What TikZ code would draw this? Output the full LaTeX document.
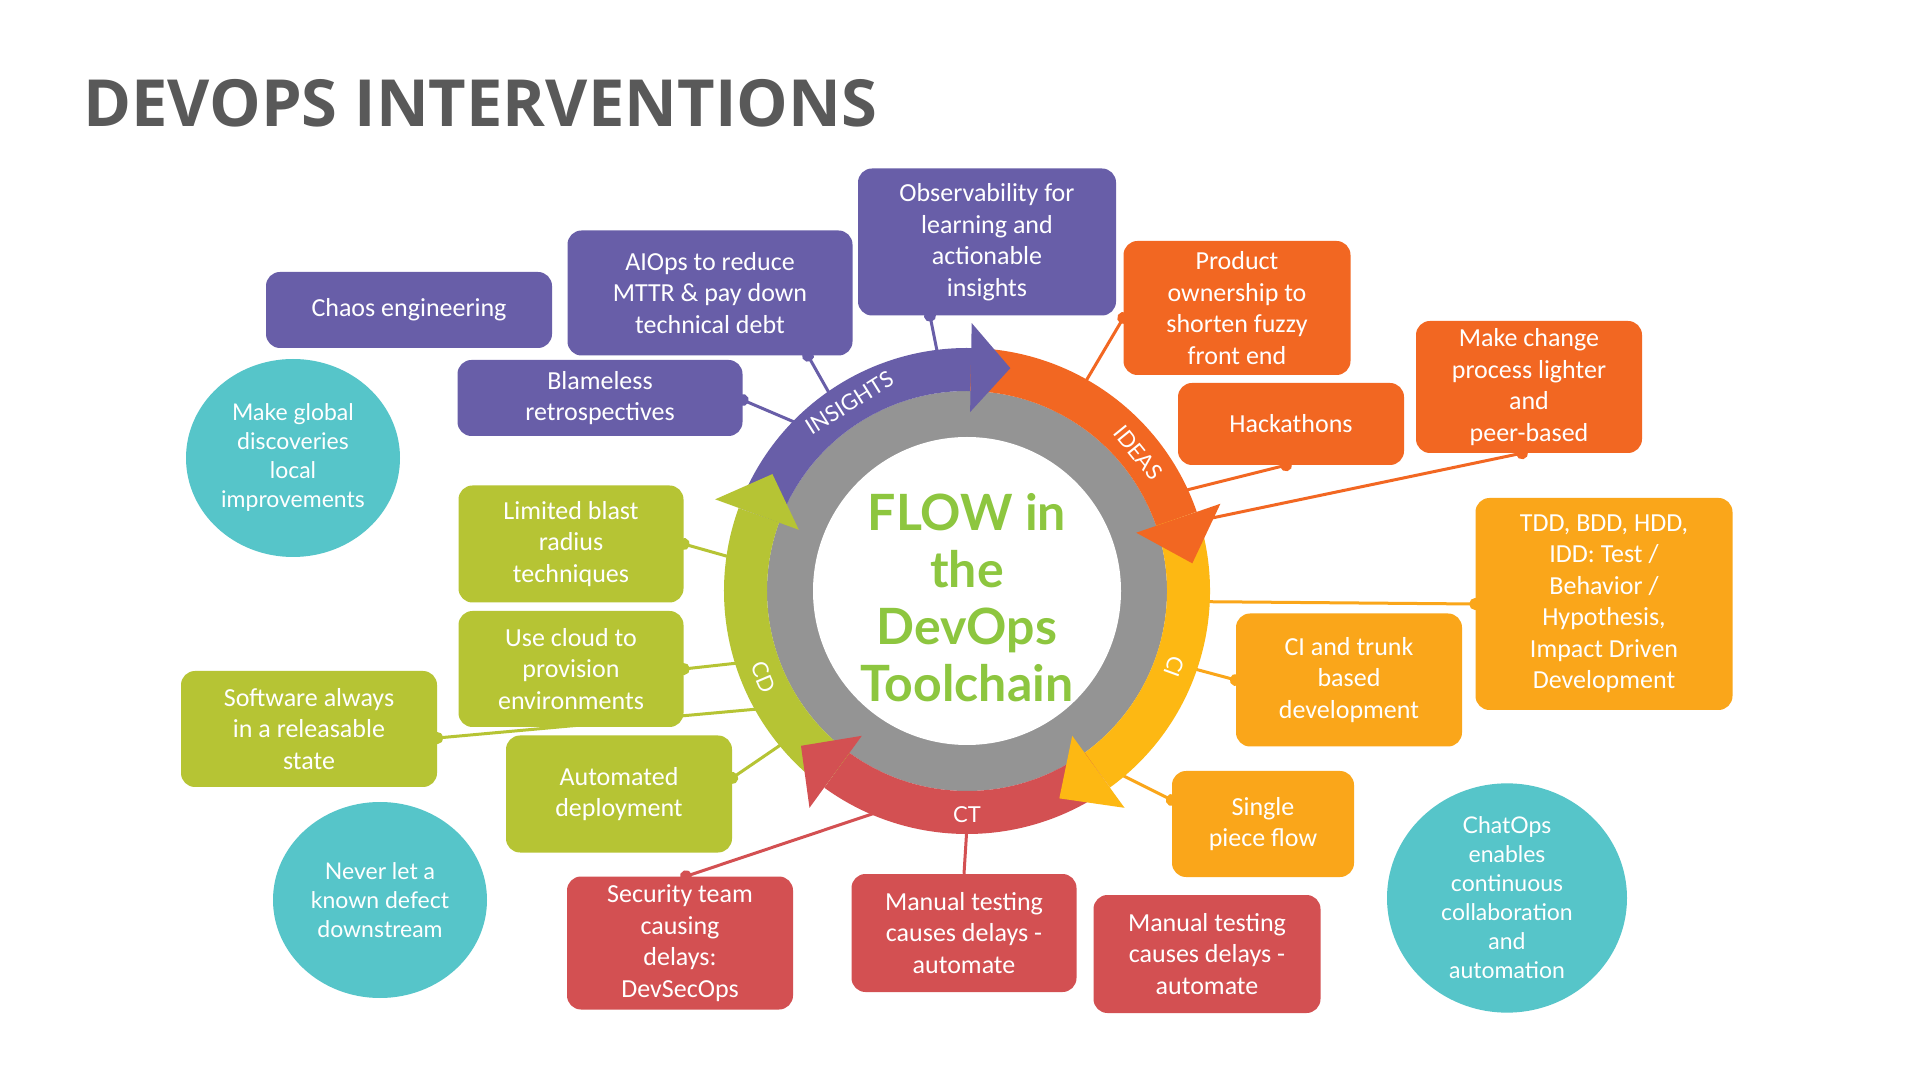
\documentclass[tikz,border=0pt]{standalone}
\usepackage{fontspec}
\setmainfont{Carlito}
\newfontfamily\roundfont{Lato}
\newfontfamily\headfont{Open Sans}
\usepackage{tikz}
\usetikzlibrary{calc}
\usetikzlibrary{arrows.meta}
\usetikzlibrary{shapes.geometric}

\definecolor{insight}{HTML}{685EA8}
\definecolor{idea}{HTML}{F26722}
\definecolor{cibox}{HTML}{FAA61A}
\definecolor{ciband}{HTML}{FDB813}
\definecolor{ctcol}{HTML}{D35052}
\definecolor{cdcol}{HTML}{B6C434}
\definecolor{bubblecol}{HTML}{56C5C9}
\definecolor{ringgray}{HTML}{949494}
\definecolor{flowgreen}{HTML}{8DC63F}
\definecolor{titlegray}{HTML}{595959}

\begin{document}
\begin{tikzpicture}[x=1pt, y=1pt]
		\tikzstyle{tag} = [rounded corners=14pt, align=center, text=white, inner sep=0pt, font=\fontsize{26}{31.5}\selectfont]
		\tikzstyle{insightbox} = [tag, fill=insight]
		\tikzstyle{ideabox} = [tag, fill=idea]
		\tikzstyle{cibx} = [tag, fill=cibox]
		\tikzstyle{ctbox} = [tag, fill=ctcol]
		\tikzstyle{cdbox} = [tag, fill=cdcol]
		\tikzstyle{bubble} = [ellipse, fill=bubblecol, text=white, align=center, inner sep=0pt, font=\roundfont\fontsize{23}{29}\selectfont]
		\tikzstyle{link} = [line width=3pt, {Circle[length=12pt]}-, shorten <=-6pt]
		\tikzstyle{band} = [line width=43pt]
		\tikzstyle{ringlabel} = [text=white, inner sep=0pt, font=\roundfont\fontsize{22}{22}\selectfont]

		\useasboundingbox (0,0) rectangle (1920,1080);
		\fill[white] (0,0) rectangle (1920,1080);
		\coordinate (c) at (967, 489);

	% Titulo
		\node[anchor=base west, inner sep=0pt, text=titlegray, font=\headfont\bfseries\fontsize{65}{65}\selectfont] (title) at (83, 953) {DEVOPS INTERVENTIONS};

	% Cajas
		\node[insightbox, minimum width=286pt, minimum height=76pt](chaos) at (409, 770) {Chaos engineering};
		\node[insightbox, minimum width=285pt, minimum height=125pt](aiops) at (710, 787) {AIOps to reduce\\MTTR \& pay down\\technical debt};
		\node[insightbox, minimum width=258pt, minimum height=147pt](observ) at (987, 838) {Observability for\\learning and\\actionable\\insights};
		\node[insightbox, minimum width=285pt, minimum height=76pt](blameless) at (600, 682) {Blameless\\retrospectives};

		\node[ideabox, minimum width=227pt, minimum height=134pt](product) at (1237, 772) {Product\\ownership to\\shorten fuzzy\\front end};
		\node[ideabox, minimum width=226pt, minimum height=82pt](hack) at (1291, 656) {Hackathons};
		\node[ideabox, minimum width=226pt, minimum height=132pt](change) at (1529, 693) {Make change\\process lighter\\and\\peer-based};

		\node[cibx, minimum width=257pt, minimum height=212pt](tdd) at (1604, 476) {TDD, BDD, HDD,\\IDD: Test /\\Behavior /\\Hypothesis,\\Impact Driven\\Development};
		\node[cibx, minimum width=226pt, minimum height=133pt](trunk) at (1349, 400) {CI and trunk\\based\\development};
		\node[cibx, minimum width=182pt, minimum height=106pt](single) at (1263, 256) {Single\\piece flow};

		\node[ctbox, minimum width=226pt, minimum height=133pt](security) at (680, 137) {Security team\\causing\\delays:\\DevSecOps};
		\node[ctbox, minimum width=225pt, minimum height=118pt](manualA) at (964, 147) {Manual testing\\causes delays -\\automate};
		\node[ctbox, minimum width=227pt, minimum height=118pt](manualB) at (1207, 126) {Manual testing\\causes delays -\\automate};

		\node[cdbox, minimum width=225pt, minimum height=117pt](blast) at (571, 536) {Limited blast\\radius\\techniques};
		\node[cdbox, minimum width=225pt, minimum height=116pt](cloud) at (571, 411) {Use cloud to\\provision\\environments};
		\node[cdbox, minimum width=256pt, minimum height=116pt](software) at (309, 351) {Software always\\in a releasable\\state};
		\node[cdbox, minimum width=226pt, minimum height=117pt](autodep) at (619, 286) {Automated\\deployment};

		\node[bubble, minimum width=214pt, minimum height=198pt](global) at (293, 622) {Make global\\discoveries\\local\\improvements};
		\node[bubble, minimum width=214pt, minimum height=196pt](never) at (380, 180) {Never let a\\known defect\\downstream};
		\node[bubble, minimum width=240pt, minimum height=226pt](chatops) at (1507, 182) {ChatOps\\enables\\continuous\\collaboration\\and\\automation};

	% Enlaces
		\draw[link, insight] ([xshift=-57pt]observ.south) -- ($(c)+(97:235)$);
		\draw[link, insight] ([xshift=98pt]aiops.south) -- ($(c)+(125:235)$);
		\draw[link, insight] ([yshift=-2pt]blameless.east) -- ($(c)+(135:235)$);
		\draw[link, idea] ([yshift=-10pt]product.west) -- ($(c)+(60.5:235)$);
		\draw[link, idea] ([xshift=-5pt]hack.south) -- ($(c)+(25:235)$);
		\draw[link, idea] ([xshift=-7pt]change.south) -- ($(c)+(16.7:250)$);
		\draw[link, cibox] (tdd.west) -- ($(c)+(-2.6:235)$);
		\draw[link, cibox] (trunk.west) -- ($(c)+(-19:235)$);
		\draw[link, cibox] ([yshift=24pt]single.west) -- ($(c)+(-50.5:235)$);
		\draw[line width=3pt, ctcol] (manualA.north) -- ($(c)+(-90:235)$);
		\draw[link, ctcol] ([xshift=6pt]security.north) -- ($(c)+(-111:235)$);
		\draw[link, cdcol] (blast.east) -- ($(c)+(172:235)$);
		\draw[link, cdcol] (cloud.east) -- ($(c)+(197.7:235)$);
		\draw[link, cdcol] ([yshift=-9pt]software.east) -- ($(c)+(210:235)$);
		\draw[link, cdcol] ([yshift=16pt]autodep.east) -- ($(c)+(219.7:235)$);

	% Anillo
		\fill[ringgray] (c) circle (200);
		\fill[white] (c) circle (154);
		\draw[band, insight] ($(c)+(160:221.5)$) arc[start angle=160, end angle=89, radius=221.5];
		\draw[band, idea] ($(c)+(89:221.5)$) arc[start angle=89, end angle=19, radius=221.5];
		\draw[band, ciband] ($(c)+(19:221.5)$) arc[start angle=19, end angle=-54, radius=221.5];
		\draw[band, ctcol] ($(c)+(-54:221.5)$) arc[start angle=-54, end angle=-126, radius=221.5];
		\draw[band, cdcol] ($(c)+(-126:221.5)$) arc[start angle=-126, end angle=-200, radius=221.5];

		\fill[insight] ($(c)+(89:179)$) -- ($(c)+(79:227)$) -- ($(c)+(89:268)$) -- cycle;
		\fill[idea] ($(c)+(19:179)$) -- ($(c)+(7:227)$) -- ($(c)+(19:268)$) -- cycle;
		\fill[ciband] ($(c)+(-54:179)$) -- ($(c)+(-66:227)$) -- ($(c)+(-54:268)$) -- cycle;
		\fill[ctcol] ($(c)+(-126:179)$) -- ($(c)+(-137:227)$) -- ($(c)+(-126:268)$) -- cycle;
		\fill[cdcol] ($(c)+(160:179)$) -- ($(c)+(149:227)$) -- ($(c)+(160:268)$) -- cycle;

		\node[ringlabel, rotate=32](insights) at ($(c)+(122:222)$) {INSIGHTS};
		\node[ringlabel, rotate=-51](ideas) at ($(c)+(39:220)$) {IDEAS};
		\node[ringlabel, rotate=-110](ci) at ($(c)+(-20:221)$) {CI};
		\node[ringlabel](ct) at ($(c)+(-90:224)$) {CT};
		\node[ringlabel, rotate=-67](cd) at ($(c)+(203:221)$) {CD};

		\node[inner sep=0pt, align=center, text=flowgreen, font=\roundfont\bfseries\fontsize{50}{57}\selectfont](hub) at ($(c)+(0,-7)$) {FLOW in\\the\\DevOps\\Toolchain};

	\end{tikzpicture}
\end{document}
